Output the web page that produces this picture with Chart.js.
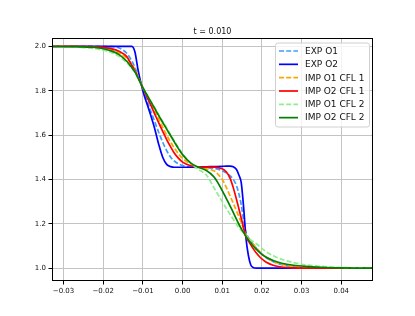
<!DOCTYPE html>
<html>
<head>
<meta charset="utf-8">
<script src="https://cdn.jsdelivr.net/npm/chart.js"></script>
<style>
  html, body { margin: 0; padding: 0; background: #fff; }
  canvas { display: block; }
</style>
</head>
<body>
<canvas id="chart" width="415" height="316"></canvas>
<script>
// sample positions along x, shared by every curve
const xs = [-0.0329, -0.028, -0.024, -0.021, -0.018, -0.016, -0.014, -0.0128, -0.012, -0.0112,
  -0.0104, -0.0096, -0.0088, -0.008, -0.007, -0.006, -0.005, -0.004, -0.003, -0.002,
  -0.001, 0, 0.002, 0.004, 0.006, 0.008, 0.01, 0.011, 0.012, 0.0128,
  0.0136, 0.0142, 0.0148, 0.0154, 0.016, 0.0166, 0.0172, 0.0178, 0.0186, 0.0196,
  0.021, 0.023, 0.025, 0.028, 0.031, 0.035, 0.04, 0.048];

const expO1 = [2.0, 2.0, 2.0, 2.0, 1.999, 1.993, 1.968, 1.935, 1.905, 1.868,
  1.828, 1.788, 1.748, 1.708, 1.66, 1.612, 1.568, 1.53, 1.50, 1.482,
  1.47, 1.463, 1.456, 1.454, 1.453, 1.45, 1.44, 1.43, 1.416, 1.40,
  1.372, 1.335, 1.285, 1.215, 1.16, 1.138, 1.122, 1.108, 1.09, 1.07,
  1.048, 1.028, 1.016, 1.006, 1.002, 1.0, 1.0, 1.0];

const expO2 = [2.0, 2.0, 2.0, 2.0, 2.0, 2.0, 2.0, 2.0, 1.975, 1.893,
  1.828, 1.775, 1.733, 1.688, 1.628, 1.558, 1.50, 1.468, 1.458, 1.455,
  1.455, 1.455, 1.455, 1.456, 1.457, 1.458, 1.459, 1.46, 1.46, 1.457,
  1.445, 1.42, 1.385, 1.273, 1.133, 1.057, 1.014, 1.003, 1.0, 1.0,
  1.0, 1.0, 1.0, 1.0, 1.0, 1.0, 1.0, 1.0];

const impO1Cfl1 = [2.0, 2.0, 1.998, 1.994, 1.985, 1.97, 1.945, 1.918, 1.897, 1.864,
  1.828, 1.80, 1.772, 1.744, 1.708, 1.672, 1.636, 1.60, 1.568, 1.54,
  1.515, 1.495, 1.47, 1.455, 1.448, 1.438, 1.40, 1.365, 1.325, 1.292,
  1.258, 1.232, 1.206, 1.178, 1.15, 1.134, 1.121, 1.109, 1.092, 1.072,
  1.05, 1.03, 1.018, 1.008, 1.003, 1.001, 1.0, 1.0];

const impO2Cfl1 = [2.0, 2.0, 1.999, 1.997, 1.99, 1.978, 1.953, 1.915, 1.89, 1.86,
  1.828, 1.797, 1.766, 1.735, 1.695, 1.655, 1.617, 1.58, 1.547, 1.517,
  1.495, 1.478, 1.462, 1.456, 1.456, 1.456, 1.448, 1.435, 1.405, 1.362,
  1.31, 1.268, 1.225, 1.18, 1.14, 1.122, 1.105, 1.088, 1.068, 1.048,
  1.028, 1.012, 1.005, 1.001, 1.0, 1.0, 1.0, 1.0];

const impO1Cfl2 = [2.0, 1.998, 1.994, 1.987, 1.973, 1.955, 1.925, 1.902, 1.884, 1.857,
  1.828, 1.802, 1.778, 1.753, 1.723, 1.692, 1.662, 1.632, 1.602, 1.572,
  1.543, 1.516, 1.475, 1.445, 1.42, 1.36, 1.30, 1.27, 1.242, 1.22,
  1.198, 1.183, 1.17, 1.158, 1.147, 1.137, 1.127, 1.12, 1.11, 1.095,
  1.075, 1.055, 1.04, 1.025, 1.015, 1.008, 1.003, 1.0];

const impO2Cfl2 = [2.0, 1.999, 1.997, 1.993, 1.98, 1.963, 1.932, 1.905, 1.885, 1.857,
  1.828, 1.801, 1.776, 1.751, 1.72, 1.688, 1.657, 1.627, 1.597, 1.567,
  1.538, 1.512, 1.475, 1.455, 1.44, 1.41, 1.35, 1.315, 1.28, 1.25,
  1.22, 1.198, 1.178, 1.16, 1.143, 1.127, 1.113, 1.1, 1.085, 1.068,
  1.05, 1.033, 1.022, 1.013, 1.008, 1.004, 1.001, 1.0];

const xTicks = [-0.03, -0.02, -0.01, 0, 0.01, 0.02, 0.03, 0.04];
const yTicks = [1.0, 1.2, 1.4, 1.6, 1.8, 2.0];

const FONT = 'DejaVu Sans';
const DASH = [5, 2.2];

const series = [
  { label: 'EXP O1', values: expO1, color: '#3d9dff', dash: DASH },
  { label: 'EXP O2', values: expO2, color: '#0000ff', dash: [] },
  { label: 'IMP O1 CFL 1', values: impO1Cfl1, color: '#ffa500', dash: DASH },
  { label: 'IMP O2 CFL 1', values: impO2Cfl1, color: '#ff0000', dash: [] },
  { label: 'IMP O1 CFL 2', values: impO1Cfl2, color: '#90ee90', dash: DASH },
  { label: 'IMP O2 CFL 2', values: impO2Cfl2, color: '#008000', dash: [] },
];

const fmt = (v, d) => (v < 0 ? '\u2212' : '') + Math.abs(v).toFixed(d);

// axes frame (all four spines) drawn over the lines
const framePlugin = {
  id: 'frame',
  afterDatasetsDraw(chart) {
    const { ctx, chartArea: a } = chart;
    ctx.save();
    ctx.strokeStyle = '#000';
    ctx.lineWidth = 1;
    ctx.strokeRect(Math.round(a.left) + 0.5, Math.round(a.top) + 0.5,
      Math.round(a.right - a.left) - 1, Math.round(a.bottom - a.top) - 1);
    ctx.restore();
  }
};

// matplotlib style legend box, upper right
const boxLegend = {
  id: 'boxLegend',
  afterDraw(chart) {
    const { ctx, chartArea: a } = chart;
    const sets = chart.data.datasets;
    const rowH = 13.33;
    const boxW = 94, boxH = 84;
    const x0 = a.right - 4 - boxW;
    const y0 = a.top + 4.5;
    ctx.save();
    ctx.beginPath();
    ctx.roundRect(x0 + 0.5, y0 + 0.5, boxW, boxH, 2.5);
    ctx.fillStyle = 'rgba(255,255,255,0.8)';
    ctx.fill();
    ctx.strokeStyle = '#d0d0d0';
    ctx.lineWidth = 1;
    ctx.stroke();
    ctx.font = '9px "' + FONT + '"';
    ctx.textBaseline = 'middle';
    ctx.textAlign = 'left';
    sets.forEach((ds, i) => {
      const y = y0 + 8.5 + i * rowH;
      ctx.beginPath();
      ctx.setLineDash(ds.borderDash || []);
      ctx.strokeStyle = ds.borderColor;
      ctx.lineWidth = ds.borderWidth;
      ctx.moveTo(x0 + 4, y);
      ctx.lineTo(x0 + 23, y);
      ctx.stroke();
      ctx.setLineDash([]);
      ctx.fillStyle = '#111';
      ctx.fillText(ds.label, x0 + 30, y + 0.5);
    });
    ctx.restore();
  }
};

const n = series.length;
const datasets = series.map((s, i) => ({
  label: s.label,
  data: xs.map((x, k) => ({ x: x, y: s.values[k] })),
  borderColor: s.color,
  borderDash: s.dash,
  borderWidth: 1.7,
  pointRadius: 0,
  fill: false,
  cubicInterpolationMode: 'monotone',
  order: n - i, // later series on top, as in the original
}));

new Chart(document.getElementById('chart'), {
  type: 'line',
  data: { datasets },
  options: {
    responsive: false,
    animation: false,
    layout: { padding: { top: 0, right: 42, left: 0, bottom: 0 } },
    plugins: {
      legend: { display: false },
      tooltip: { enabled: false },
      title: {
        display: true,
        text: 't = 0.010',
        fullSize: false,
        color: '#111',
        font: { family: FONT, size: 8, weight: 'normal' },
        padding: { top: 27, bottom: 1.4 },
      },
    },
    scales: {
      x: {
        type: 'linear',
        min: -0.0329,
        max: 0.048,
        afterBuildTicks: (axis) => { axis.ticks = xTicks.map(v => ({ value: v })); },
        afterFit: (axis) => { axis.height = 35; },
        grid: { color: '#c4c4c4', lineWidth: 1, tickColor: '#000', tickLength: 3.5 },
        border: { display: false },
        ticks: {
          color: '#111',
          font: { family: FONT, size: 7 },
          padding: 2,
          maxRotation: 0,
          callback: (v) => fmt(v, 2),
        },
      },
      y: {
        type: 'linear',
        min: 0.942,
        max: 2.038,
        afterBuildTicks: (axis) => { axis.ticks = yTicks.map(v => ({ value: v })); },
        afterFit: (axis) => { axis.width = 52; },
        grid: { color: '#c4c4c4', lineWidth: 1, tickColor: '#000', tickLength: 3.5 },
        border: { display: false },
        ticks: {
          color: '#111',
          font: { family: FONT, size: 7 },
          padding: 2.5,
          callback: (v) => fmt(v, 1),
        },
      },
    },
  },
  plugins: [framePlugin, boxLegend],
});
</script>
</body>
</html>
